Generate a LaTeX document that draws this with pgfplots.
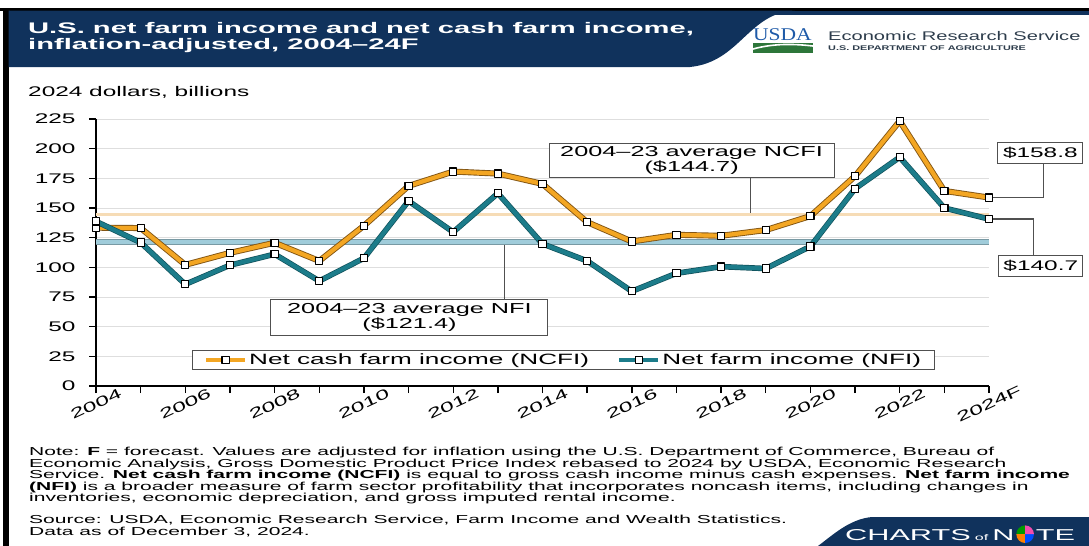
\documentclass[border=0pt]{standalone}
\usepackage{fontspec}
\setmainfont{Liberation Sans}
\newfontfamily\cf{Liberation Sans}[FakeStretch=1.75]
\newfontfamily\tf{Liberation Sans}[FakeStretch=1.9]
\newfontfamily\nf{Liberation Sans}[FakeStretch=1.82]
\newfontfamily\lf{Liberation Sans}[FakeStretch=1.6]
\newfontfamily\cnf{Liberation Sans}[FakeStretch=1.95]
\newfontfamily\usdaf{Liberation Serif}[FakeStretch=1.2]
\usepackage{pgfplots}
\pgfplotsset{compat=1.18}
\usepackage{pgfplotstable}
\usetikzlibrary{calc}

\definecolor{navy}{RGB}{16,50,92}
\definecolor{ncfi}{RGB}{243,166,35}
\definecolor{ncfiedge}{RGB}{130,85,20}
\definecolor{nfi}{RGB}{28,124,138}
\definecolor{nfiedge}{RGB}{15,80,90}
\definecolor{avgncfi}{RGB}{246,220,182}
\definecolor{avgnfi}{RGB}{160,204,218}
\definecolor{usdablue}{RGB}{30,90,168}
\definecolor{usdagreen}{RGB}{45,118,58}
\definecolor{boxline}{RGB}{80,80,80}
\definecolor{ersgray}{RGB}{45,60,75}

% year, net cash farm income, net farm income (2024 dollars, billions)
\pgfplotstableread{
year ncfi nfi
2004 133.4 138.7
2005 133.1 120.9
2006 102.1 85.7
2007 112.2 101.8
2008 120.7 111.1
2009 105.4 88.5
2010 135.0 107.7
2011 168.6 155.9
2012 180.7 129.7
2013 179.0 162.4
2014 170.3 119.8
2015 138.1 105.4
2016 121.8 79.8
2017 127.4 95.0
2018 126.6 100.6
2019 131.4 99.0
2020 143.2 117.6
2021 176.8 166.3
2022 223.3 192.8
2023 164.4 150.0
2024 158.8 140.7
}\income

\begin{document}
\begin{tikzpicture}
\path[use as bounding box] (0,0) rectangle (1089bp,-546bp);

\begin{scope}[x=1bp,y=-1bp]
% frame and header band
\fill[black] (0,8) rectangle (1089,10.5);
\fill[black] (3,8) rectangle (8.5,546);
\fill[navy] (8.5,10.5) -- (795,10.5) .. controls (748,13) and (740,62) .. (690,67) -- (8.5,67) -- cycle;
\fill[navy] (760,10.5) rectangle (1089,15);
\node[anchor=base west, text=white, inner sep=0pt] at (28,33.5)
  {\tf\bfseries\fontsize{15.4}{15}\selectfont U.S. net farm income and net cash farm income,};
\node[anchor=base west, text=white, inner sep=0pt] at (28,49)
  {\tf\bfseries\fontsize{15.4}{15}\selectfont inflation-adjusted, 2004–24F};
% USDA ERS logo
\node[anchor=base west, text=usdablue, inner sep=0pt] at (753,40)
  {\usdaf\fontsize{18}{18}\selectfont USDA};
\fill[usdagreen] (753,42.5) rectangle (813,53);
\draw[white, line width=1.6bp] (753,49) .. controls (775,43) and (795,44) .. (813,46);
\node[anchor=base west, text=ersgray, inner sep=0pt] at (828,40)
  {\lf\fontsize{12.6}{12}\selectfont Economic Research Service};
\node[anchor=base west, text=ersgray, inner sep=0pt] at (828,50.5)
  {\lf\bfseries\fontsize{6.8}{7}\selectfont U.S. DEPARTMENT OF AGRICULTURE};
% y axis title
\node[anchor=base west, inner sep=0pt] at (28,96.7)
  {\cf\fontsize{14}{14}\selectfont 2024 dollars, billions};
% notes
\begin{scope}[every node/.style={anchor=base west, inner sep=0pt, font=\nf\fontsize{11.6}{11}\selectfont}]
\node at (29,455.5) {Note: \textbf{F} = forecast. Values are adjusted for inflation using the U.S. Department of Commerce, Bureau of};
\node at (29,467) {Economic Analysis, Gross Domestic Product Price Index rebased to 2024 by USDA, Economic Research};
\node at (29,478.5) {Service. \textbf{Net cash farm income (NCFI)} is equal to gross cash income minus cash expenses. \textbf{Net farm income}};
\node at (29,490) {\textbf{(NFI)} is a broader measure of farm sector profitability that incorporates noncash items, including changes in};
\node at (29,501.5) {inventories, economic depreciation, and gross imputed rental income.};
\node at (29,523.5) {Source: USDA, Economic Research Service, Farm Income and Wealth Statistics.};
\node at (29,535) {Data as of December 3, 2024.};
\end{scope}
% Charts of Note banner
\fill[navy] (1089,517) -- (872,517) .. controls (850,519) and (834,534) .. (818,546) -- (1089,546) -- cycle;
\node[anchor=base west, text=white, inner sep=0pt] (cn) at (845,540)
  {\cnf\fontsize{15.8}{16}\selectfont CHARTS\hspace{4bp}{\fontsize{8.3}{8}\selectfont of}\hspace{4bp}N};
\end{scope}
\coordinate (pc) at ($(cn.base east)+(10.5bp,5.8bp)$);
\begin{scope}[shift={(pc)}]
\fill[green!60!black] (0,0) -- (90:8.8bp) arc[start angle=90,end angle=180,radius=8.8bp] -- cycle;
\fill[orange] (0,0) -- (180:8.8bp) arc[start angle=180,end angle=270,radius=8.8bp] -- cycle;
\fill[blue!70!cyan] (0,0) -- (270:8.8bp) arc[start angle=270,end angle=360,radius=8.8bp] -- cycle;
\fill[magenta!70] (0,0) -- (0:8.8bp) arc[start angle=0,end angle=90,radius=8.8bp] -- cycle;
\end{scope}
\node[anchor=base west, text=white, inner sep=0pt] at ($(pc)+(10.5bp,-5.8bp)$)
  {\cnf\fontsize{15.8}{16}\selectfont TE};

\begin{axis}[
  at={(96bp,-386bp)}, anchor=south west,
  scale only axis, width=893bp, height=267bp,
  xmin=2004, xmax=2024, ymin=0, ymax=225,
  axis x line*=bottom, axis y line*=left,
  axis line style={-, line width=1.4bp, black},
  tick align=outside,
  major tick length=7bp, minor tick length=7bp,
  major tick style={black, line width=1.4bp},
  minor tick style={black, line width=1.4bp},
  xtick={2004,2006,...,2024},
  minor xtick={2005,2007,...,2023},
  xticklabels={2004,2006,2008,2010,2012,2014,2016,2018,2020,2022,2024F},
  ytick={0,25,...,225},
  ymajorgrids, grid style={line width=1bp, black!13},
  /pgf/number format/assume math mode=true,
  tick label style={font=\cf\fontsize{14}{14}\selectfont},
  x tick label style={yshift=-11bp, rotate=25, anchor=center},
  y tick label style={xshift=-10bp},
  clip=false,
  legend columns=2,
  legend style={at={(0.5235,0.0974)}, anchor=center, draw=boxline, line width=1bp,
    fill=white, inner xsep=11bp, inner ysep=1.5bp,
    font=\cf\fontsize{15}{15}\selectfont,
    /tikz/every even column/.append style={column sep=26bp}},
  legend image code/.code={\draw[mark repeat=2, mark phase=2, #1] plot coordinates {(0bp,0bp) (19.5bp,0bp) (39bp,0bp)};},
]
% leader lines
\draw[boxline, line width=1.4bp] (axis cs:2018.66,176) -- (axis cs:2018.66,144.7);
\draw[boxline, line width=1.4bp] (axis cs:2013.15,73.3) -- (axis cs:2013.15,121.4);
\draw[boxline, line width=1.4bp] (axis cs:2024,158.8) -- (axis cs:2025.22,158.8) -- (axis cs:2025.22,187.6);
\draw[boxline, line width=1.4bp] (axis cs:2024,140.7) -- (axis cs:2024.99,140.7) -- (axis cs:2024.99,109.5);
% 2004-23 averages
\addplot[forget plot, avgncfi, line width=3.5bp] coordinates {(2004,144.7) (2024,144.7)};
\addplot[forget plot, avgnfi!75!black, line width=5.5bp] coordinates {(2004,121.4) (2024,121.4)};
\addplot[forget plot, avgnfi, line width=3.5bp] coordinates {(2004,121.4) (2024,121.4)};
% series
\addplot[forget plot, ncfiedge, line width=6bp, line join=round] table[x=year, y=ncfi] {\income};
\addplot[ncfi, line width=4.2bp, line join=round, mark=square*, mark size=3.6bp,
  mark options={fill=white, draw=black, line width=1.1bp, solid}] table[x=year, y=ncfi] {\income};
\addlegendentry{Net cash farm income (NCFI)}
\addplot[forget plot, nfiedge, line width=5.6bp, line join=round] table[x=year, y=nfi] {\income};
\addplot[nfi, line width=4.2bp, line join=round, mark=square*, mark size=3.6bp,
  mark options={fill=white, draw=black, line width=1.1bp, solid}] table[x=year, y=nfi] {\income};
\addlegendentry{Net farm income (NFI)}
% annotation boxes
\begin{scope}[every node/.style={draw=boxline, line width=1.1bp, fill=white, inner sep=0pt, align=center}]
\node[minimum width=285bp, minimum height=34bp, font=\cf\fontsize{14.5}{15}\selectfont]
  at (axis cs:2017.34,190.4) {2004–23 average NCFI\\(\$144.7)};
\node[minimum width=277bp, minimum height=36bp, font=\cf\fontsize{14.5}{15}\selectfont]
  at (axis cs:2011.02,58.1) {2004–23 average NFI\\(\$121.4)};
\node[minimum width=85bp, minimum height=21bp, font=\cf\fontsize{14}{14}\selectfont]
  at (axis cs:2025.15,196.3) {\$158.8};
\node[minimum width=84bp, minimum height=21bp, font=\cf\fontsize{14}{14}\selectfont]
  at (axis cs:2025.16,100.9) {\$140.7};
\end{scope}
\end{axis}
\end{tikzpicture}
\end{document}
